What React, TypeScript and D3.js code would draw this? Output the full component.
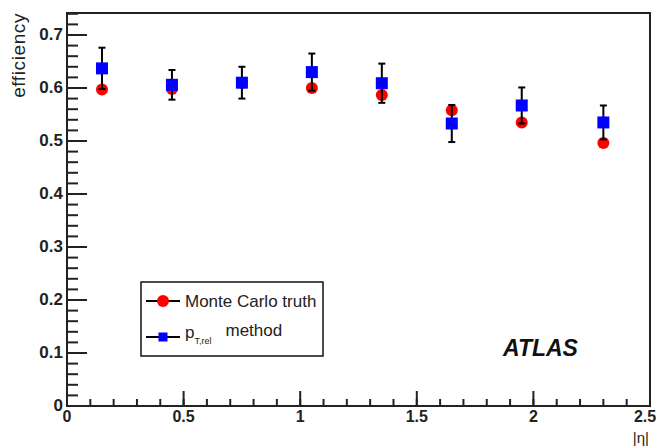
import React from "react";
import * as d3 from "d3";

const etaBins = [0.15, 0.45, 0.75, 1.05, 1.35, 1.65, 1.95, 2.3];
const mcTruth = [0.597, 0.598, 0.61, 0.6, 0.587, 0.558, 0.535, 0.496];
const ptRel = [0.637, 0.606, 0.61, 0.63, 0.609, 0.533, 0.567, 0.535];
const ptRelErr = [0.039, 0.028, 0.03, 0.035, 0.037, 0.035, 0.034, 0.032];
const xTicks = [0, 0.5, 1, 1.5, 2, 2.5];
const xTickLabels = ["0", "0.5", "1", "1.5", "2", "2.5"];
const yTicks = [0, 0.1, 0.2, 0.3, 0.4, 0.5, 0.6, 0.7];
const yTickLabels = ["0", "0.1", "0.2", "0.3", "0.4", "0.5", "0.6", "0.7"];
const legendLabels = ["Monte Carlo truth", "method"];

const W = 659;
const H = 448;
const left = 67;
const right = 650;
const top = 13;
const bottom = 406;

export default function App() {
  const x = d3.scaleLinear().domain([0, 2.5]).range([left, right]);
  const y = d3.scaleLinear().domain([0, 0.7415]).range([bottom, top]);

  const xMinor = d3.range(0, 2.5001, 0.1);
  const yMinor = d3.range(0, 0.7415, 0.02);

  const font = "'Liberation Sans', Arial, Helvetica, sans-serif";

  return (
    <svg
      width={W}
      height={H}
      style={{ position: "absolute", left: 0, top: 0, background: "#fff" }}
      fontFamily={font}
    >
      <rect x={0} y={0} width={W} height={H} fill="#fff" />
      {/* frame */}
      <rect x={left} y={top} width={right - left} height={bottom - top} fill="none" stroke="#222" strokeWidth={2} />

      {/* x ticks */}
      {xMinor.map((v, i) => (
        <line key={"xm" + i} x1={x(v)} x2={x(v)} y1={bottom} y2={bottom - 7} stroke="#222" strokeWidth={2} />
      ))}
      {xTicks.map((v, i) => (
        <line key={"xM" + i} x1={x(v)} x2={x(v)} y1={bottom} y2={bottom - 15} stroke="#222" strokeWidth={2} />
      ))}
      {xTicks.map((v, i) => (
        <text
          key={"xl" + i}
          x={Math.min(x(v), W - 14)}
          y={422}
          textAnchor="middle"
          fontSize={16}
          fontWeight="bold"
          fill="#222"
        >
          {xTickLabels[i]}
        </text>
      ))}

      {/* y ticks */}
      {yMinor.map((v, i) => (
        <line key={"ym" + i} x1={left} x2={left + 11} y1={y(v)} y2={y(v)} stroke="#222" strokeWidth={2} />
      ))}
      {yTicks.map((v, i) => (
        <line key={"yM" + i} x1={left} x2={left + 20} y1={y(v)} y2={y(v)} stroke="#222" strokeWidth={2} />
      ))}
      {yTicks.map((v, i) => (
        <text key={"yl" + i} x={63} y={y(v) + 5} textAnchor="end" fontSize={17} fontWeight="bold" fill="#222">
          {yTickLabels[i]}
        </text>
      ))}

      {/* axis titles */}
      <text transform={`translate(25,13) rotate(-90)`} textAnchor="end" fontSize={19} letterSpacing={0.6} fill="#222">
        efficiency
      </text>
      <text x={649} y={443} textAnchor="end" fontSize={15} fill="#222">
        |η|
      </text>

      {/* MC truth markers */}
      {etaBins.map((v, i) => (
        <circle key={"r" + i} cx={x(v)} cy={y(mcTruth[i])} r={6} fill="#ff0000" />
      ))}
      {/* pT,rel error bars */}
      {etaBins.map((v, i) => (
        <g key={"e" + i} stroke="#000" strokeWidth={2}>
          <line x1={x(v)} x2={x(v)} y1={y(ptRel[i] - ptRelErr[i])} y2={y(ptRel[i] + ptRelErr[i])} />
          <line x1={x(v) - 3.5} x2={x(v) + 3.5} y1={y(ptRel[i] + ptRelErr[i])} y2={y(ptRel[i] + ptRelErr[i])} />
          <line x1={x(v) - 3.5} x2={x(v) + 3.5} y1={y(ptRel[i] - ptRelErr[i])} y2={y(ptRel[i] - ptRelErr[i])} />
        </g>
      ))}
      {/* pT,rel markers */}
      {etaBins.map((v, i) => (
        <rect key={"b" + i} x={x(v) - 6} y={y(ptRel[i]) - 6} width={12} height={12} fill="#0000ff" />
      ))}

      {/* legend */}
      <rect x={141} y={282} width={182} height={74} fill="#fff" stroke="#111" strokeWidth={1.5} />
      <line x1={146} x2={180} y1={301} y2={301} stroke="#000" strokeWidth={2} />
      <circle cx={163} cy={301} r={6} fill="#ff0000" />
      <text x={185} y={307} fontSize={17} fill="#222">
        {legendLabels[0]}
      </text>
      <line x1={146} x2={180} y1={337} y2={337} stroke="#000" strokeWidth={2} />
      <rect x={158.5} y={332.5} width={9} height={9} fill="#0000ff" />
      <text x={185} y={338} fontSize={17} fill="#222">
        p
        <tspan fontSize={9} dy={6}>T,rel</tspan>
        <tspan dy={-8} dx={14}>{legendLabels[1]}</tspan>
      </text>

      {/* ATLAS label */}
      <text x={503} y={356} fontSize={23} fontWeight="bold" fontStyle="italic" fill="#111">
        ATLAS
      </text>
    </svg>
  );
}
